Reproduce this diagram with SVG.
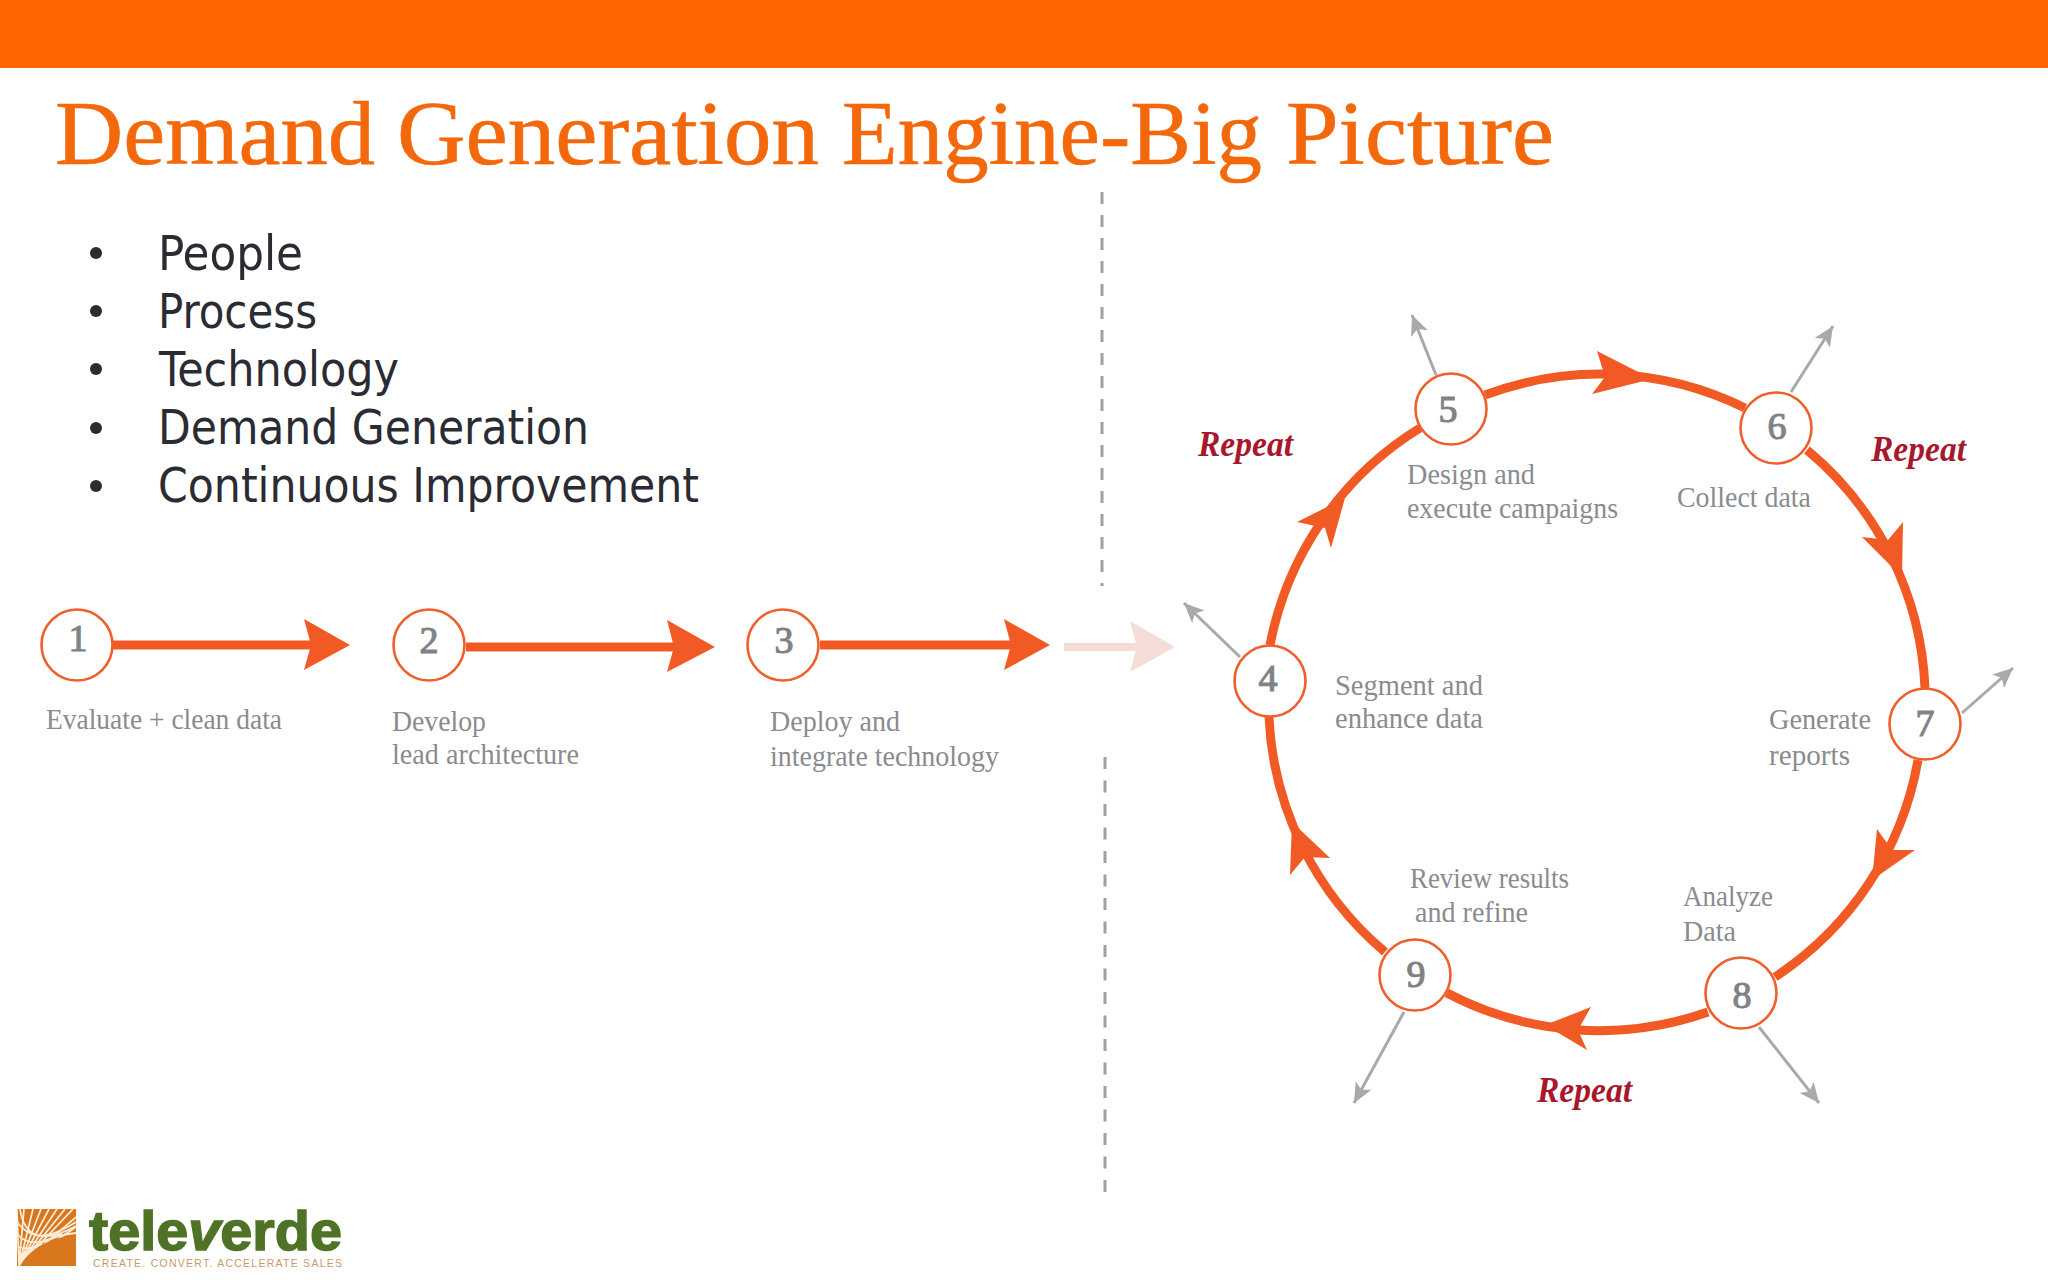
<svg xmlns="http://www.w3.org/2000/svg" width="2048" height="1280" viewBox="0 0 2048 1280">
<style>
.title{font-family:"Liberation Serif","Times New Roman",serif;font-size:90px;fill:#f4680c;stroke:#f4680c;stroke-width:.6}
.bul{font-family:"DejaVu Sans Condensed","DejaVu Sans",sans-serif;font-size:48px;fill:#2b2b33}
.lbl{font-family:"Liberation Serif","Times New Roman",serif;font-size:29px;fill:#8b8b8f}
.num{font-family:"Liberation Serif","Times New Roman",serif;font-size:38px;fill:#808285;stroke:#808285;stroke-width:1.1;text-anchor:middle}
.rep{font-family:"Liberation Serif","Times New Roman",serif;font-size:35px;font-weight:bold;font-style:italic;fill:#a8182c}
.ring{fill:#fff;stroke:#ef5f2b;stroke-width:2.6}
.line{fill:none;stroke:#f15a24;stroke-width:9}
.head{fill:#f15a24}
.gray{fill:none;stroke:#a9a9ac;stroke-width:3;marker-end:url(#g)}
.dash{fill:none;stroke:#a0a0a0;stroke-width:3;stroke-dasharray:12 11}
</style>
<defs>
<marker id="g" markerUnits="userSpaceOnUse" markerWidth="24" markerHeight="24" refX="20" refY="10" orient="auto" viewBox="0 0 24 20"><path d="M0,1 L20,10 L0,19 L5,10 Z" fill="#a9a9ac"/></marker>
<clipPath id="sq"><rect x="17" y="1209" width="59" height="57"/></clipPath>
</defs>
<rect width="2048" height="1280" fill="#fff"/>
<rect id="topbar" width="2048" height="68" fill="#ff6600"/>
<text class="title" y="164"><tspan x="55" textLength="320" lengthAdjust="spacingAndGlyphs">Demand</tspan> <tspan x="397" textLength="422" lengthAdjust="spacingAndGlyphs">Generation</tspan> <tspan x="842" textLength="420" lengthAdjust="spacingAndGlyphs">Engine-Big</tspan> <tspan x="1286" textLength="268" lengthAdjust="spacingAndGlyphs">Picture</tspan></text>

<g id="bullets">
<circle cx="96" cy="253" r="6" fill="#2b2b33"/><text class="bul" x="158" y="270" textLength="145" lengthAdjust="spacingAndGlyphs">People</text>
<circle cx="96" cy="311" r="6" fill="#2b2b33"/><text class="bul" x="158" y="328" textLength="159" lengthAdjust="spacingAndGlyphs">Process</text>
<circle cx="96" cy="369" r="6" fill="#2b2b33"/><text class="bul" x="159" y="386" textLength="240" lengthAdjust="spacingAndGlyphs">Technology</text>
<circle cx="96" cy="428" r="6" fill="#2b2b33"/><text class="bul" x="158" y="444" textLength="431" lengthAdjust="spacingAndGlyphs">Demand Generation</text>
<circle cx="96" cy="486" r="6" fill="#2b2b33"/><text class="bul" x="158" y="502" textLength="541" lengthAdjust="spacingAndGlyphs">Continuous Improvement</text>
</g>

<g id="dividers">
<path class="dash" d="M1102,192 V586"/>
<path class="dash" d="M1105,757 V1192" style="stroke-dasharray:12 11.5"/>
</g>

<g id="connectors">
<path class="line" d="M113,645 H320"/>
<polygon class="head" points="304,619 350,645 304,670 311,645"/>
<path class="line" d="M466,647 H685"/>
<polygon class="head" points="667,620 715,647 667,672 674,647"/>
<path class="line" d="M820,645 H1020"/>
<polygon class="head" points="1004,619 1050,645 1004,670 1011,645"/>
<path d="M1064,647 H1140" fill="none" stroke="#f3ddd6" stroke-width="8"/>
<polygon points="1130,621 1175,647 1130,672 1137,647" fill="#f3ddd6"/>

<path class="line" d="M1270,645 A327,327 0 0 1 1420,428"/>
<polygon class="head" points="1297,522 1345,498 1331,548 1325,528"/>
<path class="line" d="M1485,395 A327,327 0 0 1 1745,408"/>
<polygon class="head" points="1597,351 1652,379 1592,394 1605,377"/>
<path class="line" d="M1807,450 A327,327 0 0 1 1925,688"/>
<polygon class="head" points="1903,522 1902,577 1862,537 1888,540"/>
<path class="line" d="M1918,760 A327,327 0 0 1 1775,977"/>
<polygon class="head" points="1877,829 1872,880 1915,850 1892,850"/>
<path class="line" d="M1708,1012 A327,327 0 0 1 1447,993"/>
<polygon class="head" points="1591,1007 1545,1025 1587,1050 1578,1030"/>
<path class="line" d="M1385,952 A327,327 0 0 1 1269,717"/>
<polygon class="head" points="1330,858 1292,822 1290,875 1305,857"/>

<path class="gray" d="M1240,657 L1184,603"/>
<path class="gray" d="M1436,375 L1412,315"/>
<path class="gray" d="M1791,392 L1833,326"/>
<path class="gray" d="M1962,713 L2013,668"/>
<path class="gray" d="M1759,1027 L1819,1103"/>
<path class="gray" d="M1404,1012 L1354,1103"/>
</g>

<g id="node1"><circle class="ring" cx="77" cy="645" r="35.5"/><text class="num" x="78" y="651">1</text><text class="lbl" x="46" y="729" textLength="236" lengthAdjust="spacingAndGlyphs">Evaluate + clean data</text></g>
<g id="node2"><circle class="ring" cx="429" cy="645" r="35.5"/><text class="num" x="429" y="653">2</text><text class="lbl" x="392" y="731" textLength="94" lengthAdjust="spacingAndGlyphs">Develop</text><text class="lbl" x="392" y="764" textLength="187" lengthAdjust="spacingAndGlyphs">lead architecture</text></g>
<g id="node3"><circle class="ring" cx="783" cy="645" r="35.5"/><text class="num" x="784" y="653">3</text><text class="lbl" x="770" y="731" textLength="130" lengthAdjust="spacingAndGlyphs">Deploy and</text><text class="lbl" x="770" y="766" textLength="229" lengthAdjust="spacingAndGlyphs">integrate technology</text></g>
<g id="node4"><circle class="ring" cx="1270" cy="681" r="35.5"/><text class="num" x="1268" y="691">4</text><text class="lbl" x="1335" y="695" textLength="148" lengthAdjust="spacingAndGlyphs">Segment and</text><text class="lbl" x="1335" y="728" textLength="148" lengthAdjust="spacingAndGlyphs">enhance data</text></g>
<g id="node5"><circle class="ring" cx="1451" cy="409" r="35.5"/><text class="num" x="1448" y="422">5</text><text class="lbl" x="1407" y="484" textLength="128" lengthAdjust="spacingAndGlyphs">Design and</text><text class="lbl" x="1407" y="518" textLength="211" lengthAdjust="spacingAndGlyphs">execute campaigns</text></g>
<g id="node6"><circle class="ring" cx="1776" cy="428" r="35.5"/><text class="num" x="1777" y="439">6</text><text class="lbl" x="1677" y="507" textLength="134" lengthAdjust="spacingAndGlyphs">Collect data</text></g>
<g id="node7"><circle class="ring" cx="1925" cy="724" r="35.5"/><text class="num" x="1925" y="736">7</text><text class="lbl" x="1769" y="729" textLength="102" lengthAdjust="spacingAndGlyphs">Generate</text><text class="lbl" x="1769" y="765" textLength="81" lengthAdjust="spacingAndGlyphs">reports</text></g>
<g id="node8"><circle class="ring" cx="1741" cy="993" r="35.5"/><text class="num" x="1742" y="1008">8</text><text class="lbl" x="1683" y="906" textLength="90" lengthAdjust="spacingAndGlyphs">Analyze</text><text class="lbl" x="1683" y="941" textLength="53" lengthAdjust="spacingAndGlyphs">Data</text></g>
<g id="node9"><circle class="ring" cx="1415" cy="975" r="35.5"/><text class="num" x="1416" y="987">9</text><text class="lbl" x="1410" y="888" textLength="159" lengthAdjust="spacingAndGlyphs">Review results</text><text class="lbl" x="1415" y="922" textLength="113" lengthAdjust="spacingAndGlyphs">and refine</text></g>

<g id="repeats">
<text class="rep" x="1198" y="456" textLength="95" lengthAdjust="spacingAndGlyphs">Repeat</text>
<text class="rep" x="1871" y="461" textLength="95" lengthAdjust="spacingAndGlyphs">Repeat</text>
<text class="rep" x="1537" y="1102" textLength="95" lengthAdjust="spacingAndGlyphs">Repeat</text>
</g>

<g id="logo">
<rect x="17" y="1209" width="59" height="57" fill="#d9771f"/>
<g clip-path="url(#sq)" fill="none" stroke="#fbeed8" stroke-width="1.7">
<path d="M19,1266 L24,1209 M19,1266 L33,1209 M19,1266 L41,1209 M19,1266 L49,1209 M19,1266 L57,1209 M19,1266 L65,1209 M19,1266 L73,1209 M19,1266 L82,1212 M19,1266 L86,1220 M19,1266 L17,1209"/>
<path d="M20,1209 C24,1235 40,1246 76,1226 M17,1222 C30,1240 48,1240 76,1222 M17,1234 C27,1246 44,1244 62,1234 M18,1247 C26,1250 34,1248 42,1244"/>
<path d="M19,1266 C28,1246 48,1236 76,1233" stroke-width="2.2"/>
</g>
<path d="M20,1266 C30,1248 50,1238 76,1235 V1266 Z" fill="#d9771f"/>
<text x="89" y="1250" font-family="'Liberation Sans',Arial,sans-serif" font-size="56" font-weight="bold" fill="#4f7326" stroke="#4f7326" stroke-width="1.5" textLength="253" lengthAdjust="spacingAndGlyphs">tele<tspan font-style="italic">v</tspan>erde</text>
<text x="93" y="1267" font-family="'Liberation Sans',Arial,sans-serif" font-size="10.5" fill="#c99a6c" textLength="249" lengthAdjust="spacing">CREATE. CONVERT. ACCELERATE SALES</text>
</g>
</svg>
